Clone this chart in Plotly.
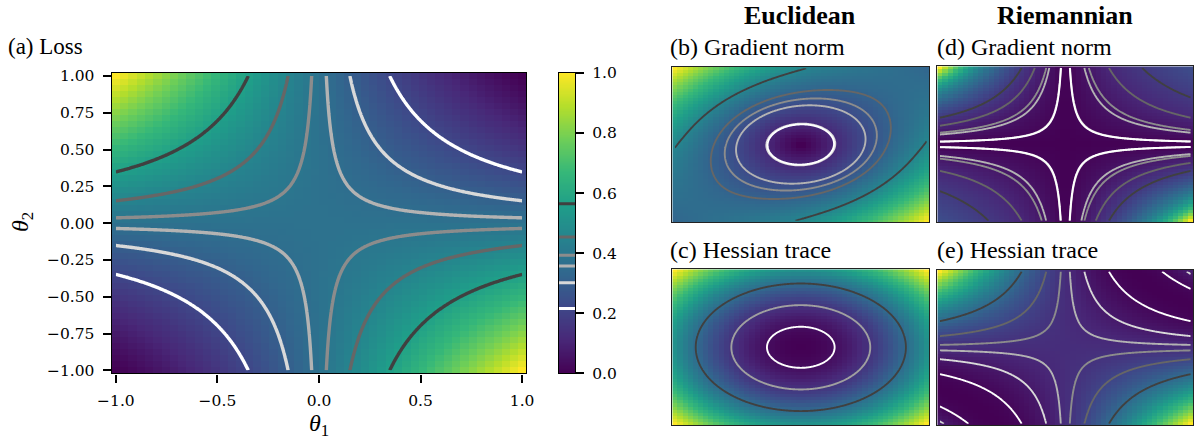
import numpy as np
import plotly.graph_objects as go

W, H = 1194, 442

# ---------------- data / parameters ----------------
N_IMG = 50            # pixel cells of each image
N_CT = 301            # resolution used for contour lines
theta_img = np.linspace(-1, 1, N_IMG)
theta_ct = np.linspace(-1, 1, N_CT)

LOSS_COEF = [0.376, -0.48, 0.12]
# shape of the Riemannian gradient norm  |p| / (RG_SHIFT + p)
RG_SHIFT = 1.613
# minimum location of the Riemannian Hessian trace (p - RH_MIN)^2
RH_MIN = 0.56
# contour levels are evaluated at the diagonal points (+-t, t)
LEVEL_T = [0.19, 0.39, 0.59]
# grey range of the contour lines: lowest level -> highest level
GREY_LOW, GREY_HIGH = 255, 64

X_TICKS = [-1.0, -0.5, 0.0, 0.5, 1.0]
X_TICKTEXT = ["\u22121.0", "\u22120.5", "0.0", "0.5", "1.0"]
Y_TICKS = [-1.0, -0.75, -0.5, -0.25, 0.0, 0.25, 0.5, 0.75, 1.0]
Y_TICKTEXT = ["\u22121.00", "\u22120.75", "\u22120.50", "\u22120.25", "0.00",
              "0.25", "0.50", "0.75", "1.00"]
CB_TICKS = [0.0, 0.2, 0.4, 0.6, 0.8, 1.0]
CB_TICKTEXT = ["0.0", "0.2", "0.4", "0.6", "0.8", "1.0"]

SERIF = "Liberation Serif"
TICK_SERIF = "DejaVu Serif"


# ---------------- functions ----------------
def loss(t1, t2):
    p = t1 * t2
    return LOSS_COEF[0] + LOSS_COEF[1] * p + LOSS_COEF[2] * p ** 2


def egrad(t1, t2):
    p = t1 * t2
    return np.abs(LOSS_COEF[1] + 2 * LOSS_COEF[2] * p) * np.sqrt(t1 ** 2 + t2 ** 2)


def ehess(t1, t2):
    return 2 * LOSS_COEF[2] * (t1 ** 2 + t2 ** 2)


def rgrad(t1, t2):
    p = t1 * t2
    return np.abs(p) / (RG_SHIFT + p)


def rhess(t1, t2):
    p = t1 * t2
    return (p - RH_MIN) ** 2


ref_pts = [(-t, t) for t in LEVEL_T[::-1]] + [(t, t) for t in LEVEL_T]

TI1, TI2 = np.meshgrid(theta_img, theta_img)
TC1, TC2 = np.meshgrid(theta_ct, theta_ct)

fig = go.Figure()


def xd(a, b):
    return [a / W, b / W]


def yd(top, bottom):
    return [1 - bottom / H, 1 - top / H]


def grey(frac):
    g = int(round(GREY_LOW + (GREY_HIGH - GREY_LOW) * frac))
    return "rgb(%d,%d,%d)" % (g, g, g)


def add_panel(f, idx, lw):
    zi = f(TI1, TI2)
    lo, hi = zi.min(), zi.max()
    zi = (zi - lo) / (hi - lo)
    zc = (f(TC1, TC2) - lo) / (hi - lo)
    levels = np.unique(np.round([(f(a, b) - lo) / (hi - lo) for a, b in ref_pts], 9))
    n = len(levels)
    ranked = [(lv, grey(r / (n - 1))) for r, lv in enumerate(levels)]
    sfx = "" if idx == 1 else str(idx)
    fig.add_trace(go.Heatmap(x=theta_img, y=theta_img, z=zi, colorscale="Viridis",
                             zmin=0, zmax=1, showscale=False, zsmooth=False,
                             hoverinfo="skip", xaxis="x" + sfx, yaxis="y" + sfx))
    for lv, col in ranked[::-1]:
        fig.add_trace(go.Contour(x=theta_ct, y=theta_ct, z=zc,
                                 autocontour=False,
                                 contours=dict(start=lv, end=lv, size=1, coloring="none"),
                                 line=dict(color=col, width=lw, smoothing=1),
                                 showscale=False, showlegend=False, hoverinfo="skip",
                                 xaxis="x" + sfx, yaxis="y" + sfx))
    return ranked


loss_levels = add_panel(loss, 1, 3.4)
add_panel(egrad, 2, 1.9)
add_panel(ehess, 3, 1.9)
add_panel(rgrad, 4, 1.9)
add_panel(rhess, 5, 1.9)

# colorbar as its own small axis
cb_vals = np.linspace(0, 1, 256)
fig.add_trace(go.Heatmap(x=[0.5], y=cb_vals, z=cb_vals.reshape(-1, 1), colorscale="Viridis",
                         zmin=0, zmax=1, showscale=False, zsmooth=False, hoverinfo="skip",
                         xaxis="x6", yaxis="y6"))
for lv, col in loss_levels:
    fig.add_trace(go.Scatter(x=[0, 1], y=[lv, lv], mode="lines",
                             line=dict(color=col, width=3), showlegend=False,
                             hoverinfo="skip", xaxis="x6", yaxis="y6"))

ext = 1 + 1 / (N_IMG - 1)
tickfont = dict(family=TICK_SERIF, size=15.5, color="black")

common = dict(showgrid=False, zeroline=False, automargin=False)
tickstyle = dict(ticks="outside", ticklen=8, tickwidth=1.6, tickcolor="black",
                 ticklabelstandoff=5, tickfont=tickfont)

layout = dict(
    width=W, height=H, margin=dict(l=0, r=0, t=0, b=0, autoexpand=False),
    paper_bgcolor="white", plot_bgcolor="white", showlegend=False,
    xaxis=dict(domain=xd(111.7, 526.3), range=[-ext, ext], tickvals=X_TICKS,
               ticktext=X_TICKTEXT, showline=True, mirror=True, linecolor="black",
               linewidth=1.4, anchor="y", **tickstyle, **common),
    yaxis=dict(domain=yd(73, 373.3), range=[-ext, ext], tickvals=Y_TICKS,
               ticktext=Y_TICKTEXT, showline=True, mirror=True, linecolor="black",
               linewidth=1.4, anchor="x", **tickstyle, **common),
    xaxis6=dict(domain=xd(559, 575), range=[0, 1], showticklabels=False, ticks="",
                showline=True, mirror=True, linecolor="black", linewidth=1.3,
                anchor="y6", **common),
    yaxis6=dict(domain=yd(73, 373.3), range=[0, 1], side="right", tickvals=CB_TICKS,
                ticktext=CB_TICKTEXT, showline=True, mirror=True, linecolor="black",
                linewidth=1.3, anchor="x6", **tickstyle, **common),
)

small = {2: (672.3, 929.3, 66.7, 222.3), 3: (672.3, 929.3, 269.3, 425.3),
         4: (937.3, 1193.3, 66.3, 222.3), 5: (937.3, 1193.3, 270, 425.3)}
for k, (x0, x1, y0, y1) in small.items():
    layout["xaxis%d" % k] = dict(domain=xd(x0, x1), range=[-ext, ext], showticklabels=False,
                                 ticks="", showline=True, mirror=True, linecolor="#222",
                                 linewidth=1, anchor="y%d" % k, **common)
    layout["yaxis%d" % k] = dict(domain=yd(y0, y1), range=[-ext, ext], showticklabels=False,
                                 ticks="", showline=True, mirror=True, linecolor="#222",
                                 linewidth=1, anchor="x%d" % k, **common)

fig.update_layout(**layout)


def ann(text, x, y, size, xanchor="left", bold=False, angle=0):
    if bold:
        text = "<b>" + text + "</b>"
    fig.add_annotation(text=text, x=x / W, y=1 - y / H, xref="paper", yref="paper",
                       showarrow=False, xanchor=xanchor, yanchor="middle", textangle=angle,
                       font=dict(family=SERIF, size=size, color="black"))


ann("(a) Loss", 6, 47, 23)
ann("(b) Gradient norm", 668, 47, 24)
ann("(d) Gradient norm", 935, 47, 24)
ann("(c) Hessian trace", 668, 250, 24)
ann("(e) Hessian trace", 935, 250, 24)
ann("Euclidean", 800, 16, 26, xanchor="center", bold=True)
ann("Riemannian", 1065, 16, 26, xanchor="center", bold=True)
ann("<i>θ</i><sub>1</sub>", 319, 425, 24, xanchor="center")
ann("<i>θ</i><sub>2</sub>", 22, 222, 24, xanchor="center", angle=-90)

fig.write_html("out.html", config={"displayModeBar": False},
               post_script="document.body.style.margin='0px';"
                           "document.documentElement.style.overflow='hidden';")
